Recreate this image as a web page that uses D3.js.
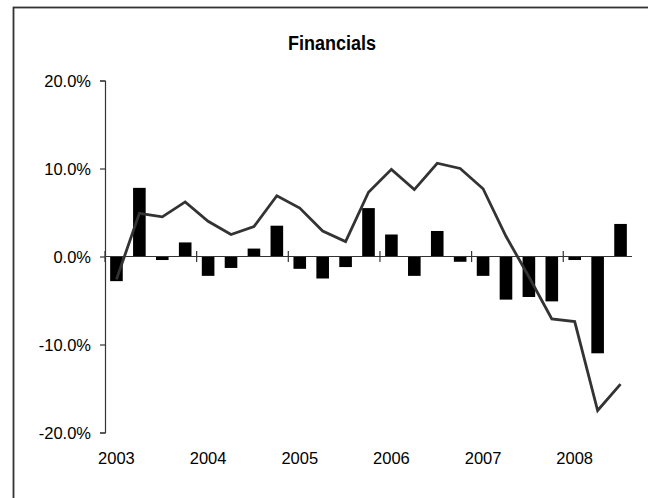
<!DOCTYPE html>
<html>
<head>
<meta charset="utf-8">
<script src="https://cdn.jsdelivr.net/npm/d3@7"></script>
<style>
  body { margin: 0; background: #fff; }
  svg { display: block; }
  text { font-family: "Liberation Sans", Arial, sans-serif; fill: #000; }
</style>
</head>
<body>
<svg id="Target" width="648" height="498"></svg>
<script>
// quarterly data, 2003 Q1 .. 2008 Q3
const quarters = d3.range(23).map(i => `${2003 + Math.floor(i / 4)}Q${i % 4 + 1}`);
const barValues = [-2.8, 7.8, -0.4, 1.6, -2.2, -1.3, 0.9, 3.5, -1.4, -2.5, -1.2, 5.5,
  2.5, -2.2, 2.9, -0.6, -2.2, -4.9, -4.6, -5.1, -0.4, -11.0, 3.7];
const lineValues = [-2.6, 4.9, 4.5, 6.2, 4.0, 2.5, 3.4, 6.9, 5.5, 2.9, 1.7, 7.3,
  9.9, 7.6, 10.6, 10.0, 7.7, 2.3, -2.3, -7.1, -7.4, -17.5, -14.5];
const yTicks = [-20, -10, 0, 10, 20];
const yearLabels = ["2003", "2004", "2005", "2006", "2007", "2008"];

const svg = d3.select("#Target");

// chart frame (right and bottom edges fall outside the picture)
svg.append("rect")
    .attr("x", 13.5).attr("y", 7.5)
    .attr("width", 700).attr("height", 600)
    .attr("fill", "none")
    .attr("stroke", "#333")
    .attr("stroke-width", 1.8);

const x = d3.scaleBand()
    .domain(quarters)
    .range([105, 632])
    .paddingInner(0.45)
    .paddingOuter(0.225);

const y = d3.scaleLinear()
    .domain([-20, 20])
    .range([432.5, 80.5]);

// title is a narrow face in the original, squeeze it to the same width
svg.append("text")
    .attr("x", 332).attr("y", 50)
    .attr("text-anchor", "middle")
    .attr("font-weight", "bold")
    .attr("font-size", 19.5)
    .attr("textLength", 88)
    .attr("lengthAdjust", "spacingAndGlyphs")
    .text("Financials");

// bars
svg.append("g")
    .selectAll("rect")
    .data(barValues)
    .join("rect")
    .attr("x", (d, i) => x(quarters[i]))
    .attr("width", x.bandwidth())
    .attr("y", d => y(Math.max(0, d)))
    .attr("height", d => Math.abs(y(d) - y(0)))
    .attr("fill", "#000");

// y axis
const yAxis = svg.append("g")
    .attr("transform", "translate(105,0)")
    .call(d3.axisLeft(y).tickValues(yTicks).tickSize(5).tickPadding(9)
        .tickFormat(d => d.toFixed(1) + "%"));
yAxis.select(".domain").attr("stroke", "#333").attr("stroke-width", 1.2);
yAxis.selectAll(".tick line").attr("stroke", "#333").attr("stroke-width", 1.2);
yAxis.selectAll(".tick text").attr("font-size", 16.5).attr("dy", "0.36em")
    .attr("font-family", "'Liberation Sans', Arial, sans-serif");

// zero line with year ticks
const step = x.step();
svg.append("line")
    .attr("x1", 105).attr("x2", 632)
    .attr("y1", y(0)).attr("y2", y(0))
    .attr("stroke", "#333").attr("stroke-width", 1.2);
svg.append("g")
    .selectAll("line")
    .data(yearLabels)
    .join("line")
    .attr("x1", (d, i) => 105 + i * 4 * step)
    .attr("x2", (d, i) => 105 + i * 4 * step)
    .attr("y1", y(0) - 5.5).attr("y2", y(0) + 5.5)
    .attr("stroke", "#333").attr("stroke-width", 1.2);

// year labels under the plot
svg.append("g")
    .selectAll("text")
    .data(yearLabels)
    .join("text")
    .attr("x", (d, i) => x(quarters[i * 4]) + x.bandwidth() / 2)
    .attr("y", 464)
    .attr("text-anchor", "middle")
    .attr("font-size", 16.5)
    .text(d => d);

// line
const line = d3.line()
    .x((d, i) => x(quarters[i]) + x.bandwidth() / 2)
    .y(d => y(d));

svg.append("path")
    .datum(lineValues)
    .attr("d", line)
    .attr("fill", "none")
    .attr("stroke", "#333")
    .attr("stroke-width", 2.8)
    .attr("stroke-linejoin", "miter");
</script>
</body>
</html>
